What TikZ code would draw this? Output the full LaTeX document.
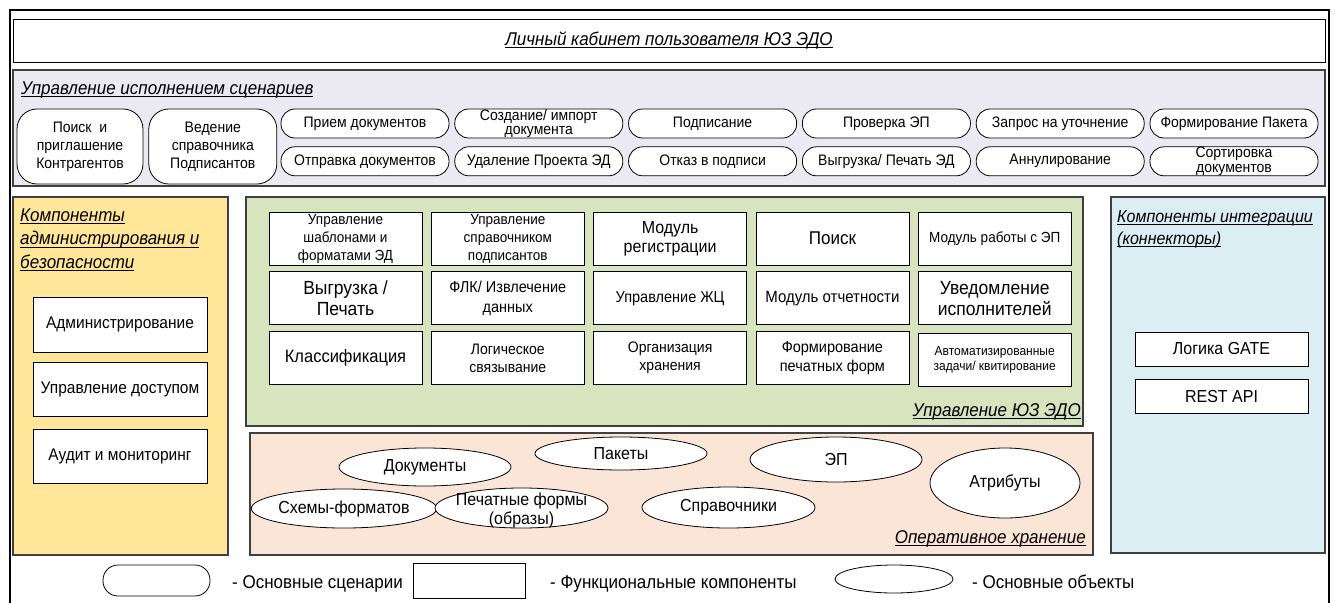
\documentclass[tikz,border=0pt]{standalone}
\usepackage{fontspec}
\setmainfont{Liberation Sans}[FakeStretch=0.92,Scale=1.087]
\usetikzlibrary{positioning,shapes.geometric}
\definecolor{Frame}{HTML}{404040}
\definecolor{Lilac}{HTML}{EBE9F1}
\definecolor{Sand}{HTML}{FFE699}
\definecolor{Sage}{HTML}{D7E4BD}
\definecolor{Peach}{HTML}{FBE5D6}
\definecolor{Sky}{HTML}{DAEEF3}
\newcommand{\undl}[1]{\setbox0\hbox{#1}\rlap{\vrule height -1.8pt depth 2.8pt width \wd0}\box0}
\tikzset{panel/.style={draw=Frame,line width=1.3pt,inner sep=0pt},capt/.style={font=\fontsize{17}{23.5}\selectfont\itshape,align=left,inner sep=0pt},scen/.style={draw,line width=.8pt,fill=white,rounded corners=14pt,minimum width=168pt,minimum height=29pt,inner xsep=2pt,inner ysep=0pt,align=center,font=\fontsize{14}{14.5}\selectfont},bigscen/.style={scen,rounded corners=20pt,minimum width=126pt,minimum height=75pt,font=\fontsize{14}{18}\selectfont},func/.style={draw,line width=.8pt,fill=white,minimum width=153pt,minimum height=53pt,inner sep=1pt,align=center},obj/.style={ellipse,draw,line width=.8pt,fill=white,inner sep=0pt,align=center,font=\fontsize{16}{18}\selectfont},fsmall/.style={font=\fontsize{13.5}{18}\selectfont},fmid/.style={font=\fontsize{14.5}{19.5}\selectfont},fbig/.style={font=\fontsize{17.5}{21}\selectfont},legend/.style={inner sep=0pt,anchor=base west,font=\fontsize{17}{20}\selectfont}}
\begin{document}
\begin{tikzpicture}[x=1pt,y=-1pt]
      \useasboundingbox (0,0) rectangle (1335,602);
      \draw[line width=2.5pt] (10,612) rectangle (1329,10);
      \node[draw,line width=.8pt,minimum width=1312pt,minimum height=43pt,font=\fontsize{17}{20}\selectfont\itshape](title) at (669,40.5){\undl{Личный кабинет пользователя ЮЗ ЭДО}};
      % scenarios
      \node[panel,fill=Lilac,minimum width=1312pt,minimum height=116pt](scenpanel) at (669,128){};
      \node[capt,anchor=base west](scencapt) at (21,94){\undl{Управление исполнением сценариев}};
      \node[bigscen](partners) at (80,146.5){Поиск\ \ и\\приглашение\\Контрагентов};
      \node[bigscen,minimum width=128pt,right=5pt of partners](signbook){Ведение\\справочника\\Подписантов};
      \node[scen](receive) at (365,123.5){Прием документов};
      \node[scen,right=5pt of receive](create){Создание/ импорт\\документа};
      \node[scen,right=5pt of create](signing){Подписание};
      \node[scen,right=5pt of signing](check){Проверка ЭП};
      \node[scen,right=5pt of check](inquiry){Запрос на уточнение};
      \node[scen,right=5pt of inquiry](package){Формирование Пакета};
      \node[scen,below=8pt of receive](dispatch){Отправка документов};
      \node[scen,right=5pt of dispatch](delete){Удаление Проекта ЭД};
      \node[scen,right=5pt of delete](refuse){Отказ в подписи};
      \node[scen,right=5pt of refuse](unload){Выгрузка/ Печать ЭД};
      \node[scen,right=5pt of unload](annul){Аннулирование};
      \node[scen,right=5pt of annul](sorting){Сортировка\\документов};
      % administration
      \node[panel,fill=Sand,minimum width=215pt,minimum height=358pt](adminpanel) at (120.5,376){};
      \node[capt,anchor=north west](admincapt) at (20,208.5){\undl{Компоненты}\\\undl{администрирования и}\\\undl{безопасности}};
      \node[func,minimum width=174pt,minimum height=55pt,font=\fontsize{15.5}{18}\selectfont](admin) at (120,324.5){Администрирование};
      \node[func,minimum width=174pt,minimum height=54pt,font=\fontsize{15.5}{18}\selectfont,below=10pt of admin](access){Управление доступом};
      \node[func,minimum width=174pt,minimum height=54pt,font=\fontsize{15.5}{18}\selectfont,below=12pt of access](audit){Аудит и мониторинг};
      % core
      \node[panel,fill=Sage,minimum width=837pt,minimum height=229pt](corepanel) at (664.5,311.5){};
      \node[capt,anchor=base east](corecapt) at (1081,416){\undl{Управление ЮЗ ЭДО}};
      \node[func,fsmall](templates) at (345.5,238.5){Управление\\шаблонами и\\форматами ЭД};
      \node[func,fsmall,right=8.5pt of templates](signers){Управление\\справочником\\подписантов};
      \node[func,font=\fontsize{16}{19}\selectfont,right=8.5pt of signers](register){Модуль\\регистрации};
      \node[func,font=\fontsize{17}{20}\selectfont,right=8.5pt of register](search){Поиск};
      \node[func,fsmall,right=8.5pt of search](epmodule){Модуль работы с ЭП};
      \node[func,fbig,below=6pt of templates](export){Выгрузка /\\Печать};
      \node[func,fmid,right=8.5pt of export](flk){ФЛК/ Извлечение\\данных};
      \node[func,fmid,right=8.5pt of flk](lifecycle){Управление ЖЦ};
      \node[func,font=\fontsize{15}{18}\selectfont,right=8.5pt of lifecycle](reports){Модуль отчетности};
      \node[func,fbig,right=8.5pt of reports](notify){Уведомление\\исполнителей};
      \node[func,font=\fontsize{16.5}{19}\selectfont,below=6pt of export](classify){Классификация};
      \node[func,font=\fontsize{14}{18}\selectfont,right=8.5pt of classify](linking){Логическое\\связывание};
      \node[func,font=\fontsize{14}{18}\selectfont,right=8.5pt of linking](storage){Организация\\хранения};
      \node[func,fmid,right=8.5pt of storage](printforms){Формирование\\печатных форм};
      \node[func,font=\fontsize{12}{15}\selectfont,right=8.5pt of printforms,yshift=-2pt](autotasks){Автоматизированные\\задачи/ квитирование};
      % storage
      \node[panel,fill=Peach,minimum width=843pt,minimum height=122pt](storepanel) at (671.5,494){};
      \node[capt,anchor=base east](storecapt) at (1086,543){\undl{Оперативное хранение}};
      \node[obj,minimum width=172pt,minimum height=38pt](docs) at (425,467){Документы};
      \node[obj,minimum width=172pt,minimum height=33pt](packs) at (621,453.5){Пакеты};
      \node[obj,minimum width=172pt,minimum height=45pt](sigs) at (836,459.5){ЭП};
      \node[obj,minimum width=150pt,minimum height=70pt](attrs) at (1005,483){Атрибуты};
      \node[obj,minimum width=176pt,minimum height=39pt](schemas) at (344,508.5){Схемы-форматов};
      \node[obj,minimum width=173pt,minimum height=40pt,label={[font=\fontsize{16}{19}\selectfont,align=center,yshift=-2pt]center:{Печатные формы\\(образы)}}](images) at (521.5,508){};
      \node[obj,minimum width=173pt,minimum height=41pt](refs) at (728.5,507.5){Справочники};
      % integration
      \node[panel,fill=Sky,minimum width=214pt,minimum height=356pt](intpanel) at (1218,375){};
      \node[capt,font=\fontsize{16}{21.5}\selectfont\itshape,anchor=north west](intcapt) at (1117,210.5){\undl{Компоненты интеграции}\\\undl{(коннекторы)}};
      \node[func,minimum width=173pt,minimum height=34pt,font=\fontsize{16}{18}\selectfont](gate) at (1221.5,349){Логика GATE};
      \node[func,minimum width=173pt,minimum height=34pt,font=\fontsize{16}{18}\selectfont,below=13pt of gate](rest){REST API};
      % legend
      \node[scen,minimum width=107pt,minimum height=31pt,rounded corners=15pt](legscen) at (156.5,580.5){};
      \node[legend](legscentext) at (232,588){- Основные сценарии};
      \node[func,minimum width=112pt,minimum height=35pt](legfunc) at (469,580.5){};
      \node[legend](legfunctext) at (550,588){- Функциональные компоненты};
      \node[obj,minimum width=118pt,minimum height=28pt](legobj) at (894,579){};
      \node[legend](legobjtext) at (972,588){- Основные объекты};
    \end{tikzpicture}
\end{document}
